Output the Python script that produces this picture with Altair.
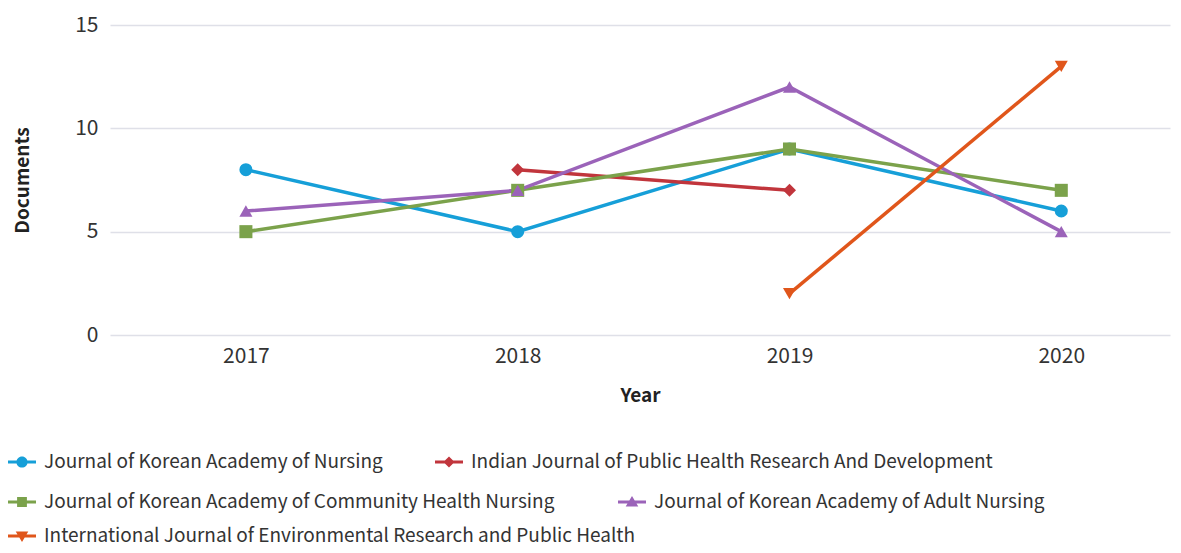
import altair as alt
import pandas as pd

years = [2017, 2018, 2019, 2020]
series_names = [
    "Journal of Korean Academy of Nursing",
    "Indian Journal of Public Health Research And Development",
    "Journal of Korean Academy of Community Health Nursing",
    "Journal of Korean Academy of Adult Nursing",
    "International Journal of  Environmental Research and Public Health",
]
nursing = [8, 5, 9, 6]
indian = [None, 8, 7, None]
community = [5, 7, 9, 7]
adult = [6, 7, 12, 5]
international = [None, None, 2, 13]

colors = ["#169fd8", "#c1353c", "#7ba24b", "#9b63b9", "#e0561b"]
shapes = ["circle", "diamond", "square", "triangle-up", "triangle-down"]

bar = "M-1,-0.11 H1 V0.11 H-1 Z "
legend_paths = [
    bar + "M-0.4,0 A0.4,0.4 0 1,1 0.4,0 A0.4,0.4 0 1,1 -0.4,0 Z",
    bar + "M0,-0.4 L0.4,0 L0,0.4 L-0.4,0 Z",
    bar + "M-0.35,-0.35 H0.35 V0.35 H-0.35 Z",
    bar + "M0,-0.42 L0.45,0.33 L-0.45,0.33 Z",
    bar + "M0,0.42 L-0.45,-0.33 L0.45,-0.33 Z",
]

rows = []
for name, shp, vals in zip(series_names, shapes,
                           [nursing, indian, community, adult, international]):
    for y, v in zip(years, vals):
        if v is not None:
            rows.append({"Year": y, "Documents": v, "Journal": name, "Marker": shp})
df = pd.DataFrame(rows)

expr = ""
for name, p in zip(series_names[:-1], legend_paths[:-1]):
    expr += f"datum.value == '{name}' ? '{p}' : "
expr += f"'{legend_paths[-1]}'"

FONT = "Noto Sans CJK KR"

x = alt.X(
    "Year:Q",
    scale=alt.Scale(domain=[2016.5, 2020.4], nice=False, zero=False),
    axis=alt.Axis(values=years, format="d", grid=False, domain=False, ticks=False,
                  labelPadding=10, titlePadding=20, labelFontSize=21,
                  titleFontSize=19, titleFontWeight="bold"),
)
y = alt.Y(
    "Documents:Q",
    scale=alt.Scale(domain=[0, 15], nice=False),
    axis=alt.Axis(values=[0, 5, 10, 15], domain=False, ticks=False, labelPadding=12,
                  titlePadding=42, labelFontSize=21, titleFontSize=19,
                  titleFontWeight="bold", gridColor="#dfe0e8", gridWidth=1.5),
)

color_scale = alt.Scale(domain=series_names, range=colors)


def row_legend(ly, col_pad):
    return alt.Legend(
        title=None, orient="none", legendX=-102, legendY=ly,
        direction="horizontal", columnPadding=col_pad, symbolSize=784,
        symbolType=alt.ExprRef(expr), symbolStrokeWidth=0, symbolOpacity=1,
        labelFontSize=19, labelLimit=900, labelOffset=8, labelColor="#333333",
    )


lines = alt.Chart(df).mark_line(strokeWidth=3.5).encode(
    x=x, y=y,
    color=alt.Color("Journal:N", scale=color_scale, legend=None),
    detail="Journal:N",
)

points = alt.Chart(df).mark_point(filled=True, size=170, opacity=1).encode(
    x=x, y=y,
    color=alt.Color("Journal:N", scale=color_scale, legend=None),
    shape=alt.Shape("Marker:N", scale=None),
)

data_layers = alt.layer(lines, points)

# legend-only layers (no marks drawn): one legend per legend row
empty = alt.Chart(df).transform_filter("datum.Year < 0")


def legend_layer(lo, hi, ly, col_pad):
    return empty.mark_point(filled=True).encode(
        color=alt.Color("Journal:N",
                        scale=alt.Scale(domain=series_names[lo:hi], range=colors[lo:hi]),
                        legend=row_legend(ly, col_pad)),
    )


chart = alt.layer(
    data_layers,
    legend_layer(0, 2, 423, 52),
    legend_layer(2, 4, 463, 63),
    legend_layer(4, 5, 497, 52),
).resolve_scale(color="independent").resolve_legend(color="independent").properties(
    width=1060, height=310,
    autosize=alt.AutoSizeParams(type="none"),
    padding={"left": 102, "top": 17, "right": 3, "bottom": 210},
).configure(font=FONT).configure_view(stroke=None).configure_axis(
    labelColor="#333333", titleColor="#222222"
)

chart.save("out.html", embed_options={"renderer": "svg", "actions": False})
